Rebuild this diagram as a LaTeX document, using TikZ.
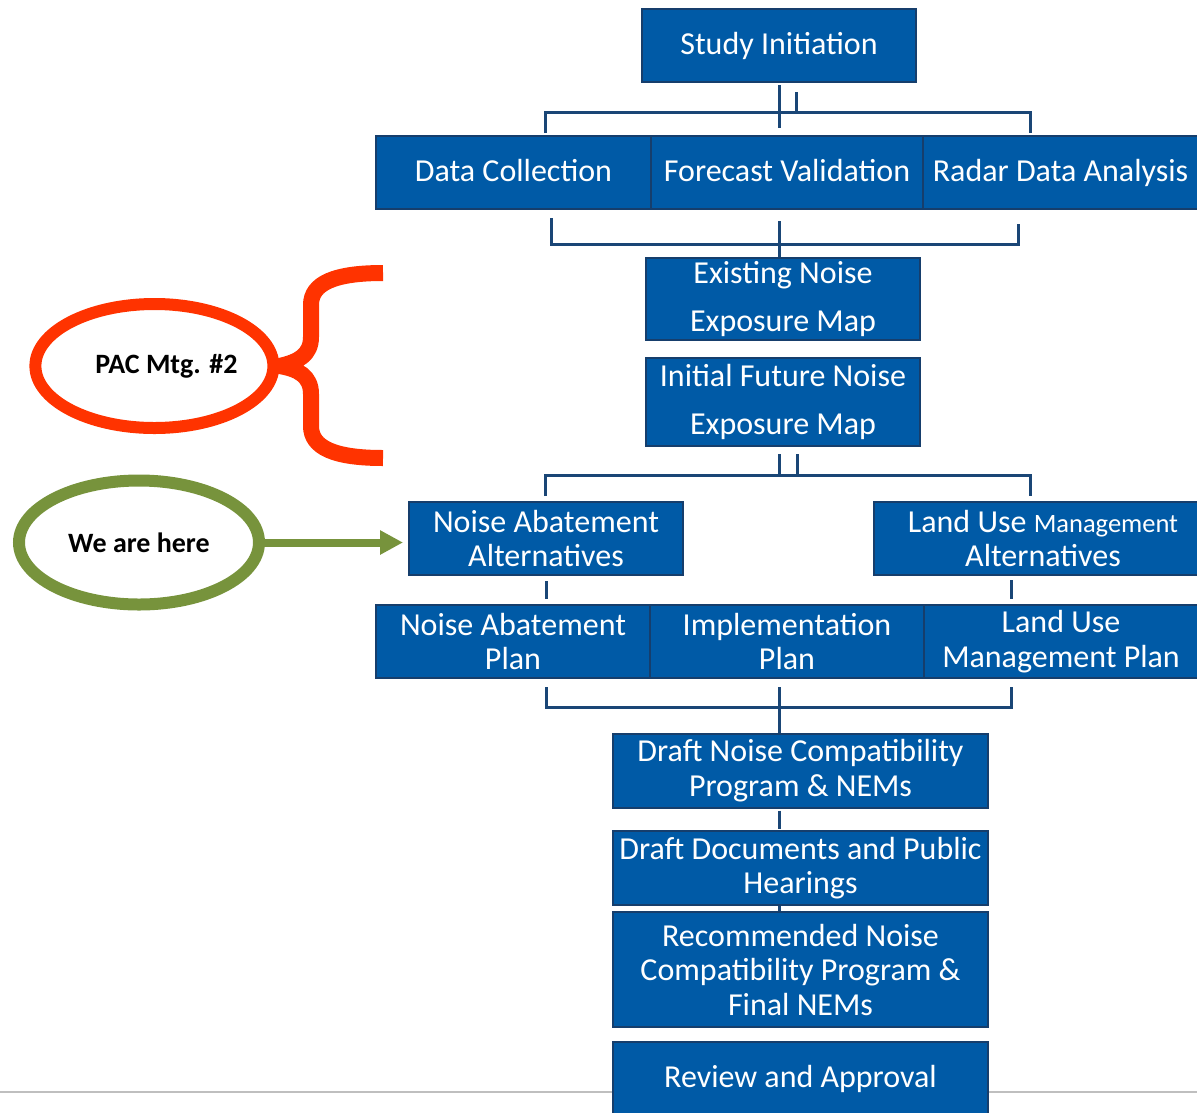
\documentclass[tikz,border=0pt]{standalone}
\usepackage{fontspec}
\setmainfont{Carlito}
\usetikzlibrary{shapes.geometric,arrows.meta,calc}
\definecolor{boxblue}{RGB}{0,90,166}
\definecolor{boxedge}{RGB}{22,62,108}
\definecolor{linkblue}{RGB}{26,70,118}
\definecolor{pacred}{RGB}{255,51,0}
\definecolor{heregreen}{RGB}{119,147,60}
\definecolor{rulegray}{RGB}{191,191,191}
\begin{document}
\begin{tikzpicture}[x=1pt,y=-1pt,
  stepbox/.style={draw=boxedge, line width=2pt, fill=boxblue, text=white, inner sep=0pt,
    align=center, font=\fontsize{32}{34.5}\selectfont},
  onebox/.style={stepbox, text height=24pt, text depth=6.4pt},
  tallbox/.style={stepbox, font=\fontsize{32}{48}\selectfont},
  link/.style={draw=linkblue, line width=3pt},
  bubble/.style={ellipse, draw, line width=12pt, inner sep=0pt},
  bubbletext/.style={font=\bfseries\fontsize{28}{30}\selectfont, text=black}]
\useasboundingbox (0,0) rectangle (1197,1112);
% bottom rule
\draw[rulegray, line width=2pt] (0,1092) -- (1197,1092);
% boxes
\node[onebox, minimum width=274, minimum height=73] (study) at (779,45.5) {Study Initiation};
\node[onebox, minimum width=275, minimum height=73] (dc) at (513.5,172.5) {Data Collection};
\node[onebox, minimum width=272, minimum height=73] (fv) at (787,172.5) {Forecast Validation};
\node[onebox, minimum width=275, minimum height=73] (rda) at (1060.5,172.5) {Radar Data Analysis};
\node[tallbox, minimum width=274, minimum height=82] (enm) at (783,299) {Existing Noise\\Exposure Map};
\node[tallbox, minimum width=274, minimum height=88] (ifm) at (783,402) {Initial Future Noise\\Exposure Map};
\node[stepbox, minimum width=274, minimum height=73] (naa) at (546,538.5) {Noise Abatement\\Alternatives};
\node[stepbox, minimum width=338, minimum height=73] (lua) at (1043,538.5) {Land Use {\fontsize{26.5}{34.5}\selectfont Management}\\Alternatives};
\node[stepbox, minimum width=274, minimum height=73] (nap) at (513,641.5) {Noise Abatement\\Plan};
\node[stepbox, minimum width=274, minimum height=73] (ip) at (787,641.5) {Implementation\\Plan};
\node[stepbox, minimum width=274, minimum height=73] (lump) at (1061,641.5) {Land Use\\Management Plan};
\node[stepbox, minimum width=375, minimum height=74] (dncp) at (800.5,770.5) {Draft Noise Compatibility\\Program \& NEMs};
\node[stepbox, minimum width=375, minimum height=74] (ddph) at (800.5,868) {Draft Documents and Public\\Hearings};
\node[stepbox, minimum width=375, minimum height=115] (rncp) at (800.5,969.5) {Recommended Noise\\Compatibility Program \&\\Final NEMs};
\node[onebox, minimum width=375, minimum height=73] (ra) at (800.5,1078.5) {Review and Approval};
% junction coordinates
\coordinate (j1l) at (545,112); \coordinate (j1r) at (1030,112);
\coordinate (j2l) at (551,244); \coordinate (j2r) at (1018,244);
\coordinate (j3l) at (545,475); \coordinate (j3r) at (1030,475);
\coordinate (j4l) at (546,707); \coordinate (j4r) at (1011,707);
% connectors
\draw[link] ($(study.south)+(0,2)$) -- ($(study.south)+(0,45)$);
\draw[link] ($(study.south)+(17,9)$) -- ($(study.south)+(17,29)$);
\draw[link] ($(j1l |- dc.north)+(0,-2)$) -- (j1l) -- (j1r) -- ($(j1r |- dc.north)+(0,-2)$);
\draw[link] ($(j2l |- dc.south)+(0,8)$) -- (j2l) -- (j2r) -- ($(j2r |- dc.south)+(0,14)$);
\draw[link] ($(study.south |- fv.south)+(0,11)$) -- (study.south |- enm.north);
\draw[link] ($(study.south |- ifm.south)+(0,7)$) -- (study.south |- j3l);
\draw[link] ($(study.south |- ifm.south)+(18,7)$) -- ($(study.south |- j3l)+(18,0)$);
\draw[link] ($(j3l |- naa.north)+(0,-5)$) -- (j3l) -- (j3r) -- ($(j3r |- naa.north)+(0,-5)$);
\draw[link] ($(naa.south)+(0,5)$) -- ($(naa.south |- nap.north)+(0,-5)$);
\draw[link] ($(j4r |- lua.south)+(0,4)$) -- ($(j4r |- lump.north)+(0,-5)$);
\draw[link] ($(j4l |- nap.south)+(0,8)$) -- (j4l) -- (j4r) -- ($(j4r |- nap.south)+(0,8)$);
\draw[link] ($(study.south |- ip.south)+(0,8)$) -- (study.south |- dncp.north);
\draw[link] ($(study.south |- dncp.south)+(0,2)$) -- ($(study.south |- ddph.north)+(0,-1)$);
\draw[link] (study.south |- ddph.south) -- (study.south |- rncp.north);
% PAC meeting bubble and brace
\node[bubble, draw=pacred, minimum width=238, minimum height=124,
  label={[bubbletext, xshift=12pt]center:PAC Mtg. \#2}] (pac) at (154.4,366) {};
\draw[pacred, line width=16pt, line join=round]
  (383,273) .. controls (335,273) and (311,283) .. (311,305) -- (311,337)
  .. controls (311,355) and (298,362) .. (pac.east)
  .. controls (298,369) and (311,376) .. (311,394) -- (311,426)
  .. controls (311,448) and (335,458) .. (383,458);
% We are here bubble and arrow
\node[bubble, draw=heregreen, minimum width=240, minimum height=124,
  label={[bubbletext]center:We are here}] (here) at (139,542.5) {};
\draw[heregreen, line width=8pt, -{Triangle[length=23pt,width=23pt]}, shorten >=5pt]
  (here.east) -- (here.east -| naa.west);
\end{tikzpicture}
\end{document}
